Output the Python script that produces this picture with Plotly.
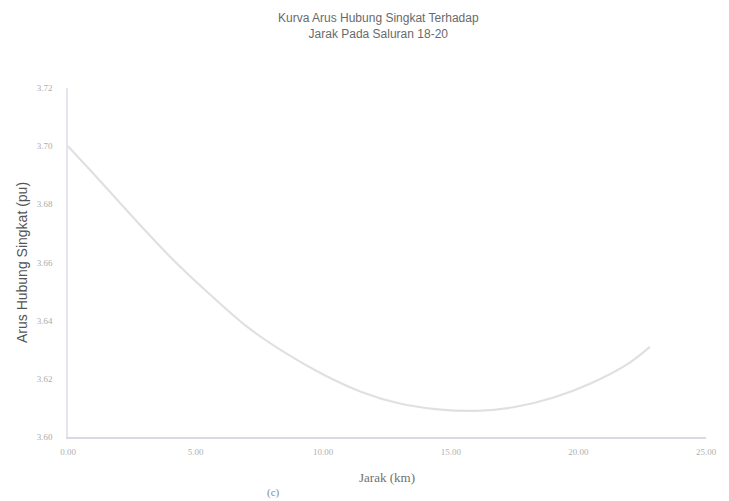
import plotly.graph_objects as go

# Distance along line 18-20 (km) and short-circuit current (pu)
jarak_km = [0, 1, 2.5, 4, 5.5, 7, 8.5, 10, 11.5, 13, 14.5, 16, 17.5, 19, 20.5, 22, 22.8]
arus_pu = [3.700, 3.6905, 3.676, 3.662, 3.6495, 3.638, 3.629, 3.6215, 3.6155, 3.6115,
           3.6095, 3.609, 3.6103, 3.6135, 3.6185, 3.6255, 3.631]

x_ticks = [0, 5, 10, 15, 20, 25]
x_tick_labels = ["0.00", "5.00", "10.00", "15.00", "20.00", "25.00"]
y_ticks = [3.60, 3.62, 3.64, 3.66, 3.68, 3.70, 3.72]
y_tick_labels = ["3.60", "3.62", "3.64", "3.66", "3.68", "3.70", "3.72"]

fig = go.Figure()
fig.add_trace(go.Scatter(
    x=jarak_km, y=arus_pu, mode="lines",
    line=dict(color="#e0e0e0", width=2.2, shape="spline", smoothing=0.8),
    showlegend=False, hoverinfo="x+y",
))

fig.update_layout(
    width=729, height=501,
    margin=dict(l=68, r=17, t=88, b=64),
    paper_bgcolor="white", plot_bgcolor="white",
    font=dict(family="Liberation Sans, Arial, sans-serif"),
)

# Two-line chart title
fig.add_annotation(
    text="Kurva Arus Hubung Singkat Terhadap<br>Jarak Pada Saluran 18-20",
    xref="paper", yref="paper", x=0.487, y=1.0, yshift=79,
    xanchor="center", yanchor="top", showarrow=False, align="center",
    font=dict(family="Liberation Sans, Arial, sans-serif", size=12, color="#6a6a6a"),
)

fig.update_xaxes(
    range=[0, 25], tickvals=x_ticks, ticktext=x_tick_labels,
    showgrid=False, zeroline=False,
    showline=True, linecolor="#d8d8e6", linewidth=2,
    ticks="", ticklabelstandoff=5,
    tickfont=dict(family="Liberation Serif, serif", size=9, color="#b0b0b0"),
    title=dict(text="Jarak (km)", standoff=17,
               font=dict(family="Liberation Serif, serif", size=13, color="#707070")),
)
fig.update_yaxes(
    range=[3.60, 3.72], tickvals=y_ticks, ticktext=y_tick_labels,
    showgrid=False, zeroline=False,
    showline=True, linecolor="#e4e4ee", linewidth=1.5,
    ticks="", ticklabelstandoff=12,
    tickfont=dict(family="Liberation Serif, serif", size=9, color="#ababab"),
    title=dict(text="Arus Hubung Singkat (pu)", standoff=6,
               font=dict(family="Liberation Sans, Arial, sans-serif", size=14, color="#555555")),
)

# Panel label below the axis title
fig.add_annotation(
    text="(c)", xref="paper", yref="paper", x=0.322, y=-0.135,
    xanchor="center", yanchor="top", showarrow=False,
    font=dict(family="Liberation Serif, serif", size=11, color="#8a8a8a"),
)

fig.write_html("out.html")
